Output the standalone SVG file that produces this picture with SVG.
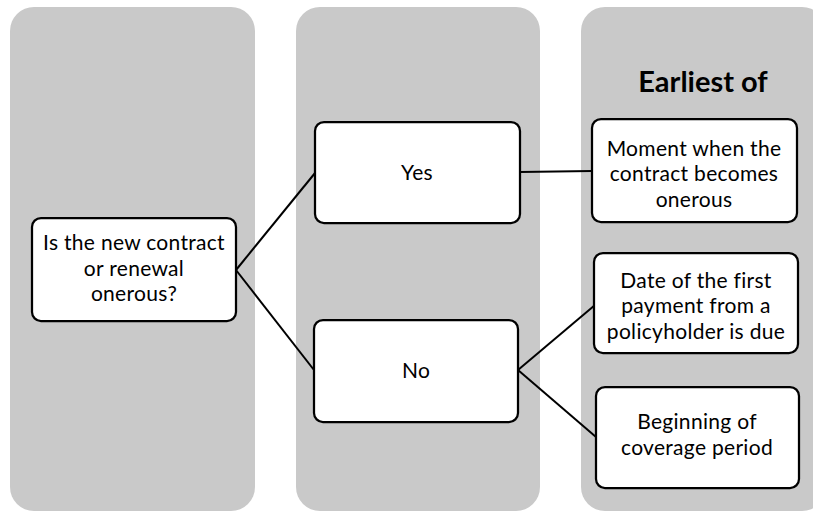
<svg xmlns="http://www.w3.org/2000/svg" width="813" height="512" viewBox="0 0 813 512">
  <style>
    .panel { fill: #c9c9c9; }
    .box { fill: #ffffff; stroke: #000000; stroke-width: 2.25; }
    .t { font-family: Lato, "Open Sans", sans-serif; font-size: 21px; letter-spacing: 0.3px; fill: #000000; text-anchor: middle; }
    .title { font-family: Lato, "Open Sans", sans-serif; font-size: 29px; font-weight: bold; fill: #000000; text-anchor: middle; }
    .conn { stroke: #000000; stroke-width: 2; fill: none; }
  </style>
  <rect width="813" height="512" fill="#ffffff"/>
  <g id="panels">
    <rect class="panel" x="10" y="7" width="245" height="504" rx="24"/>
    <rect class="panel" x="296" y="7" width="244" height="504" rx="24"/>
    <rect class="panel" x="581" y="7" width="245" height="504" rx="24"/>
  </g>
  <g id="connectors">
    <line class="conn" x1="236" y1="270" x2="315" y2="173"/>
    <line class="conn" x1="236" y1="270" x2="314" y2="370"/>
    <line class="conn" x1="520" y1="172" x2="592" y2="171"/>
    <line class="conn" x1="518" y1="370" x2="595" y2="305"/>
    <line class="conn" x1="518" y1="370" x2="596" y2="437"/>
  </g>
  <g id="title">
    <text class="title" x="703" y="92">Earliest of</text>
  </g>
  <g id="node-question">
    <rect class="box" x="32" y="218" width="204" height="103" rx="9"/>
    <text class="t" x="134" y="250">Is the new contract</text>
    <text class="t" x="134" y="275.5">or renewal</text>
    <text class="t" x="134" y="301">onerous?</text>
  </g>
  <g id="node-yes">
    <rect class="box" x="315" y="122" width="205" height="101" rx="9"/>
    <text class="t" x="417" y="180">Yes</text>
  </g>
  <g id="node-no">
    <rect class="box" x="314" y="320" width="204" height="102" rx="9"/>
    <text class="t" x="416" y="378">No</text>
  </g>
  <g id="node-moment">
    <rect class="box" x="592" y="119" width="205" height="103" rx="9"/>
    <text class="t" x="694" y="155.5">Moment when the</text>
    <text class="t" x="694" y="181">contract becomes</text>
    <text class="t" x="694" y="206.5">onerous</text>
  </g>
  <g id="node-date">
    <rect class="box" x="594" y="253" width="204" height="100" rx="9"/>
    <text class="t" x="696" y="287.5">Date of the first</text>
    <text class="t" x="696" y="313">payment from a</text>
    <text class="t" x="696" y="338.5">policyholder is due</text>
  </g>
  <g id="node-beginning">
    <rect class="box" x="596" y="387" width="203" height="101" rx="9"/>
    <text class="t" x="697" y="429">Beginning of</text>
    <text class="t" x="697" y="454.5">coverage period</text>
  </g>
</svg>
